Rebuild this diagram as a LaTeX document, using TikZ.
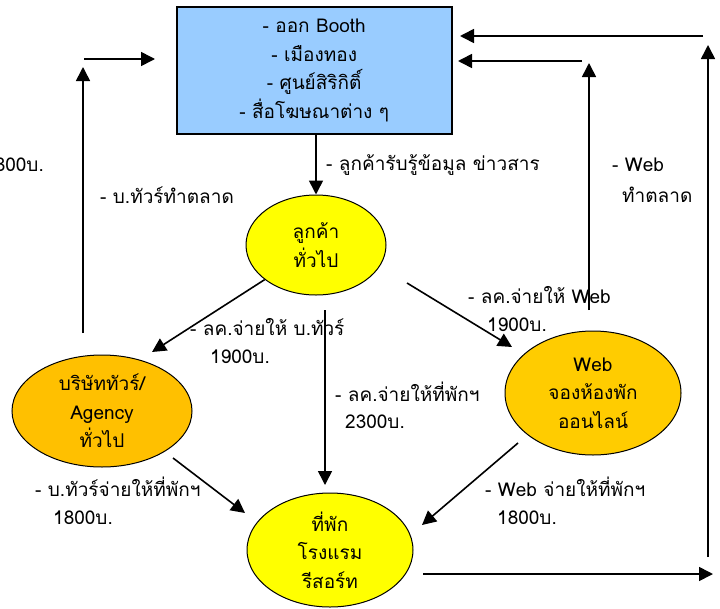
\documentclass[tikz,border=0pt]{standalone}
\usepackage{fontspec}
\setmainfont[Script=Thai]{Loma}
\usetikzlibrary{arrows.meta,shapes.geometric}
\definecolor{boxblue}{HTML}{99CCFF}
\definecolor{custyellow}{HTML}{FFFF00}
\definecolor{agencyorange}{HTML}{FFC000}
\definecolor{webgold}{HTML}{FFCC00}
\begin{document}
\begin{tikzpicture}[x=1pt,y=-1pt,
  font=\fontsize{19}{28.5}\selectfont,
  conn/.style={line width=1.6pt,-{Triangle[length=14pt,width=14pt]}},
  lbl/.style={anchor=west,inner sep=0pt,align=left},
  oval/.style={ellipse,draw,line width=1pt,inner sep=0pt,align=center}]
\useasboundingbox (0,0) rectangle (720,608);

% nodes
\node[draw,line width=1.5pt,fill=boxblue,minimum width=275pt,minimum height=127pt,
      anchor=north west,align=center,inner sep=0pt] (media) at (176,6)
      {- ออก Booth\\- เมืองทอง\\- ศูนย์สิริกิติ์\\- สื่อโฆษณาต่าง ๆ};
\node[oval,fill=custyellow,minimum width=140pt,minimum height=100pt] (cust) at (316,245) {ลูกค้า\\ทั่วไป};
\node[oval,fill=agencyorange,minimum width=180pt,minimum height=112pt] (agency) at (102,411) {บริษัททัวร์/\\Agency\\ทั่วไป};
\node[oval,fill=webgold,minimum width=176pt,minimum height=124pt] (web) at (593,393) {Web\\จองห้องพัก\\ออนไลน์};
\node[oval,fill=custyellow,minimum width=166pt,minimum height=114pt] (hotel) at (330,550) {ที่พัก\\โรงแรม\\รีสอร์ท};

% free connector ends
\coordinate (agIn) at (152,352);
\coordinate (cwS) at (407,283);
\coordinate (cwE) at (512,347);
\coordinate (chS) at (325,310);
\coordinate (chE) at (325,485);
\coordinate (ahS) at (173,458);
\coordinate (ahE) at (245,513);
\coordinate (whS) at (518,443);
\coordinate (whE) at (422,525);
\coordinate (hrS) at (423,574);
\coordinate (hrE) at (713,574);
\coordinate (rvS) at (708,557);
\coordinate (rvE) at (708,45);
\coordinate (thS) at (703,36);
\coordinate (thE) at (460,36);
\coordinate (shS) at (582,61);
\coordinate (shE) at (458,61);
\coordinate (mvS) at (589,310);
\coordinate (mvE) at (589,63);
\coordinate (lvS) at (83,333);
\coordinate (lvE) at (83,67);
\coordinate (lhS) at (84,59);
\coordinate (lhE) at (155,59);

% connectors
\draw[conn] (cust.north |- media.south) -- (cust.north);
\draw[conn] (cust.214) -- (agIn);
\draw[conn] (cwS) -- (cwE);
\draw[conn] (chS) -- (chE);
\draw[conn] (ahS) -- (ahE);
\draw[conn] (whS) -- (whE);
\draw[conn] (hrS) -- (hrE);
\draw[conn] (rvS) -- (rvE);
\draw[conn] (thS) -- (thE);
\draw[conn] (shS) -- (shE);
\draw[conn] (mvS) -- (mvE);
\draw[conn] (lvS) -- (lvE);
\draw[conn] (lhS) -- (lhE);

% labels
\node[lbl] (l1) at (326,165) {- ลูกค้ารับรู้ข้อมูล ข่าวสาร};
\node[lbl] (l2) at (100,195) {- บ.ทัวร์ทำตลาด};
\node[lbl] (l3) at (612,165) {- Web};
\node[lbl] (l4) at (622,195) {ทำตลาด};
\node[lbl,anchor=east] (l5) at (44,165) {1800บ.};
\node[lbl] (l6) at (190,327) {- ลค.จ่ายให้ บ.ทัวร์};
\node[lbl] (l7) at (210,357) {1900บ.};
\node[lbl] (l8) at (335,392) {- ลค.จ่ายให้ที่พักฯ};
\node[lbl] (l9) at (345,422) {2300บ.};
\node[lbl] (l10) at (468,295) {- ลค.จ่ายให้ Web};
\node[lbl] (l11) at (487,325) {1900บ.};
\node[lbl] (l12) at (485,487) {- Web จ่ายให้ที่พักฯ};
\node[lbl] (l13) at (497,518) {1800บ.};
\node[lbl] (l14) at (35,487) {- บ.ทัวร์จ่ายให้ที่พักฯ};
\node[lbl] (l15) at (53,518) {1800บ.};
\end{tikzpicture}
\end{document}
